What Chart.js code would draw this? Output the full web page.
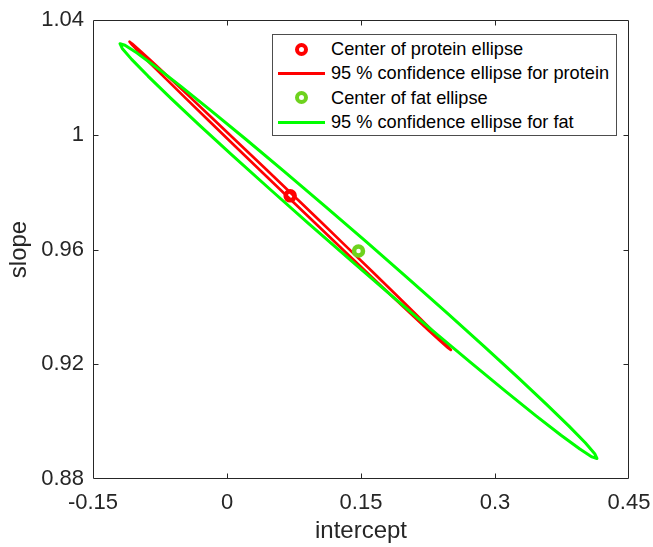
<!DOCTYPE html>
<html>
<head>
<meta charset="utf-8">
<script src="https://cdn.jsdelivr.net/npm/chart.js@4/dist/chart.umd.min.js"></script>
<style>
html,body{margin:0;padding:0;background:#fff;}
#wrap{position:relative;width:653px;height:547px;}
#legend{position:absolute;left:272px;top:34px;width:345px;height:102px;border:1px solid #4d4d4d;background:#fff;box-sizing:border-box;font-family:"Liberation Sans",Arial,sans-serif;font-size:18.2px;color:#000;}
.row{position:absolute;left:0;width:100%;height:24px;}
.row .txt{position:absolute;left:58px;top:0;line-height:24px;white-space:nowrap;}
.row .ln{position:absolute;left:5px;width:47px;height:3px;top:10.5px;}
.row .mk{position:absolute;left:22px;top:5.5px;width:13px;height:13px;border-radius:50%;border:4.5px solid;box-sizing:border-box;background:#fff;}
</style>
</head>
<body>
<div id="wrap">
<canvas id="c" width="653" height="547"></canvas>
<div id="legend"></div>
</div>
<script>
// ---- data ----
const proteinCenterX = [0.0707];
const proteinCenterY = [0.9787];
const fatCenterX = [0.1472];
const fatCenterY = [0.9595];

const proteinEllipseX = [0.25053,0.24812,0.24034,0.22739,0.20967,0.18775,0.16226,0.13399,0.1038,0.0726,0.04135,0.01098,-0.01757,-0.04343,-0.06584,-0.08409,-0.09763,-0.10607,-0.10913,-0.10672,-0.09894,-0.08599,-0.06827,-0.04635,-0.02086,0.00741,0.0376,0.0688,0.10006,0.13042,0.15897,0.18483,0.20724,0.22549,0.23903,0.24747,0.25053];
const proteinEllipseY = [0.925,0.92592,0.92845,0.93251,0.93797,0.94467,0.95239,0.96092,0.97,0.97933,0.98866,0.99767,1.00611,1.01372,1.02026,1.02554,1.0294,1.03172,1.03243,1.03151,1.02898,1.02493,1.01947,1.01277,1.00504,0.99651,0.98743,0.9781,0.96878,0.95977,0.95132,0.94371,0.93717,0.93189,0.92803,0.92571,0.925];

const fatEllipseX = [0.41412,0.41161,0.40106,0.38281,0.35738,0.32558,0.28835,0.24683,0.20229,0.15607,0.10958,0.06423,0.0214,-0.01761,-0.0516,-0.07957,-0.10064,-0.11418,-0.11978,-0.11727,-0.10672,-0.08847,-0.06304,-0.03124,0.00599,0.04751,0.09205,0.13827,0.18476,0.23011,0.27294,0.31195,0.34594,0.37391,0.39498,0.40852,0.41412];
const fatEllipseY = [0.88716,0.88881,0.89261,0.89843,0.90612,0.91542,0.92606,0.93771,0.95003,0.96263,0.97513,0.98716,0.99835,1.00835,1.01687,1.02364,1.02846,1.03119,1.03173,1.03008,1.02628,1.02046,1.01277,1.00347,0.99283,0.98118,0.96886,0.95626,0.94376,0.93173,0.92054,0.91054,0.90202,0.89525,0.89043,0.8877,0.88716];

const seriesLabels = ['Center of protein ellipse','95 % confidence ellipse for protein','Center of fat ellipse','95 % confidence ellipse for fat'];

const xTickValues = [-0.15, 0, 0.15, 0.3, 0.45];
const xTickLabels = ['-0.15', '0', '0.15', '0.3', '0.45'];
const yTickValues = [0.88, 0.92, 0.96, 1, 1.04];
const yTickLabels = ['0.88', '0.92', '0.96', '1', '1.04'];
const xTitle = 'intercept';
const yTitle = 'slope';

// ---- styles ----
const RED = '#ff0000';
const GREEN = '#00ff00';
const FATMARK = '#6ed21e';
const AXC = '#262626';
const FONT = '"Liberation Sans", Arial, sans-serif';

const toPts = (xs, ys) => xs.map((x, i) => ({x: x, y: ys[i]}));

const framePlugin = {
  id: 'frame',
  afterDatasetsDraw(chart) {
    const {ctx, chartArea: a, scales} = chart;
    const L = Math.round(a.left) + 0.5, R = Math.round(a.right) - 0.5;
    const T = Math.round(a.top) + 0.5, B = Math.round(a.bottom) - 0.5;
    ctx.save();
    ctx.strokeStyle = AXC;
    ctx.lineWidth = 1;
    ctx.beginPath();
    ctx.rect(L, T, R - L, B - T);
    const tl = 5;
    xTickValues.forEach(v => {
      const p = Math.round(scales.x.getPixelForValue(v)) + 0.5;
      if (p <= L + 1 || p >= R - 1) return;
      ctx.moveTo(p, B); ctx.lineTo(p, B - tl);
      ctx.moveTo(p, T); ctx.lineTo(p, T + tl);
    });
    yTickValues.forEach(v => {
      const p = Math.round(scales.y.getPixelForValue(v)) + 0.5;
      if (p <= T + 1 || p >= B - 1) return;
      ctx.moveTo(L, p); ctx.lineTo(L + tl, p);
      ctx.moveTo(R, p); ctx.lineTo(R - tl, p);
    });
    ctx.stroke();
    ctx.restore();
  }
};

Chart.defaults.font.family = FONT;

new Chart(document.getElementById('c'), {
  type: 'scatter',
  data: {
    datasets: [
      {label: seriesLabels[3], data: toPts(fatEllipseX, fatEllipseY), showLine: true, borderColor: GREEN, borderWidth: 3, borderJoinStyle: 'round', borderCapStyle: 'round', pointRadius: 0, fill: false, tension: 0, order: 0},
      {label: seriesLabels[2], data: toPts(fatCenterX, fatCenterY), showLine: false, pointRadius: 4.5, pointBorderWidth: 4.5, borderColor: FATMARK, pointBorderColor: FATMARK, pointBackgroundColor: '#fff', order: 1},
      {label: seriesLabels[1], data: toPts(proteinEllipseX, proteinEllipseY), showLine: true, borderColor: RED, borderWidth: 2.7, borderJoinStyle: 'round', borderCapStyle: 'round', pointRadius: 0, fill: false, tension: 0, order: 2},
      {label: seriesLabels[0], data: toPts(proteinCenterX, proteinCenterY), showLine: false, pointRadius: 4.5, pointBorderWidth: 4.5, borderColor: RED, pointBorderColor: RED, pointBackgroundColor: '#fff', order: 3}
    ]
  },
  options: {
    responsive: false,
    devicePixelRatio: 1,
    animation: false,
    events: [],
    layout: {padding: {left: 0, right: 24, top: 20, bottom: 0}},
    plugins: {legend: {display: false}, tooltip: {enabled: false}},
    scales: {
      x: {
        type: 'linear', min: -0.15, max: 0.45,
        afterBuildTicks: s => { s.ticks = xTickValues.map(v => ({value: v})); },
        afterFit: s => { s.height = 68; s.paddingLeft = 0; s.paddingRight = 0; s.paddingTop = 0; s.paddingBottom = 0; },
        ticks: {callback: v => xTickLabels[xTickValues.indexOf(v)], color: AXC, font: {size: 22}, padding: 11, maxRotation: 0, autoSkip: false},
        grid: {display: false, drawTicks: false},
        border: {display: false},
        title: {display: true, text: xTitle, color: AXC, font: {size: 24}, padding: {top: 0, bottom: 1}}
      },
      y: {
        type: 'linear', min: 0.88, max: 1.04,
        afterBuildTicks: s => { s.ticks = yTickValues.map(v => ({value: v})); },
        afterFit: s => { s.width = 93; s.paddingLeft = 0; s.paddingRight = 0; s.paddingTop = 0; s.paddingBottom = 0; },
        ticks: {callback: v => yTickLabels[yTickValues.indexOf(v)], color: AXC, font: {size: 22}, padding: 9, autoSkip: false},
        grid: {display: false, drawTicks: false},
        border: {display: false},
        title: {display: true, text: yTitle, color: AXC, font: {size: 24}, padding: {top: 5, bottom: 0}}
      }
    }
  },
  plugins: [framePlugin]
});

// ---- legend (HTML overlay) ----
const legendItems = [
  {text: seriesLabels[0], type: 'marker', color: RED},
  {text: seriesLabels[1], type: 'line', color: RED},
  {text: seriesLabels[2], type: 'marker', color: FATMARK},
  {text: seriesLabels[3], type: 'line', color: GREEN}
];
const rowTops = [2, 26.3, 50.7, 75.3];
const lg = document.getElementById('legend');
legendItems.forEach((it, i) => {
  const row = document.createElement('div');
  row.className = 'row';
  row.style.top = rowTops[i] + 'px';
  const sw = document.createElement('div');
  if (it.type === 'line') { sw.className = 'ln'; sw.style.background = it.color; }
  else { sw.className = 'mk'; sw.style.borderColor = it.color; }
  const t = document.createElement('span');
  t.className = 'txt';
  t.textContent = it.text;
  row.appendChild(sw);
  row.appendChild(t);
  lg.appendChild(row);
});
</script>
</body>
</html>
